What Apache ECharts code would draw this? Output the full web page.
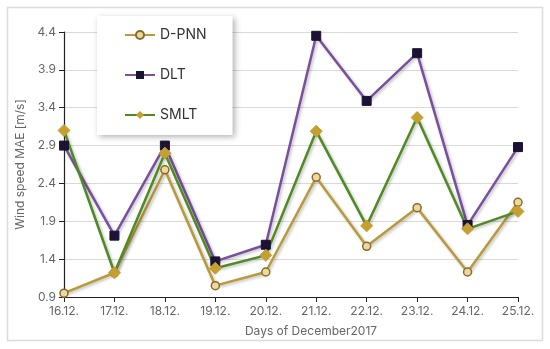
<!DOCTYPE html>
<html><head><meta charset="utf-8">
<script src="https://cdn.jsdelivr.net/npm/echarts@6/dist/echarts.min.js"></script>
<style>html,body{margin:0;padding:0;background:#fff}#c{width:550px;height:349px}</style>
</head><body><div id="c"></div>
<script>
const categories = ['16.12.','17.12.','18.12.','19.12.','20.12.','21.12.','22.12.','23.12.','24.12.','25.12.'];
const dpnn = [0.95, 1.22, 2.58, 1.05, 1.23, 2.48, 1.57, 2.08, 1.23, 2.15];
const dlt  = [2.90, 1.71, 2.90, 1.37, 1.59, 4.35, 3.49, 4.12, 1.85, 2.88];
const smlt = [3.10, 1.22, 2.80, 1.28, 1.45, 3.09, 1.84, 3.27, 1.80, 2.03];
const yTicks = [0.9, 1.4, 1.9, 2.4, 2.9, 3.4, 3.9, 4.4];

const chart = echarts.init(document.getElementById('c'));
const font = 'Inter, "Noto Sans", sans-serif';
const shadow = {shadowColor:'rgba(0,0,0,0.25)', shadowBlur:3, shadowOffsetX:1.5, shadowOffsetY:1.5};
chart.setOption({
  animation:false,
  graphic:[{type:'rect', shape:{x:7.5,y:7.5,width:535,height:333}, style:{fill:'none', stroke:'#dcdcdc', lineWidth:1.5}, z:-1}],
  grid:{left:64, right:32, top:32, bottom:52},
  legend:{
    orient:'vertical', left:97, top:16, padding:[12,26,13,27], itemGap:26,
    itemWidth:30, itemHeight:10,
    backgroundColor:'#fff', shadowColor:'rgba(0,0,0,0.3)', shadowBlur:6, shadowOffsetX:2, shadowOffsetY:2,
    textStyle:{fontFamily:font, fontSize:14, color:'#333'},
    data:['D-PNN','DLT','SMLT']
  },
  xAxis:{
    type:'category', data:categories, boundaryGap:false,
    name:'Days of December2017', nameLocation:'middle', nameGap:28,
    nameTextStyle:{fontFamily:font, fontSize:12, color:'#666', padding:[0,0,0,40]},
    axisLine:{lineStyle:{color:'#222', width:1.2}},
    axisTick:{show:true, alignWithLabel:true, length:5, lineStyle:{color:'#222'}},
    axisLabel:{fontFamily:font, fontSize:12, color:'#666', margin:8},
    splitLine:{show:false}
  },
  yAxis:{
    type:'value', min:0.9, max:4.4, interval:0.5,
    name:'Wind speed MAE [m/s]', nameLocation:'middle', nameGap:37,
    nameTextStyle:{fontFamily:font, fontSize:12, color:'#666'},
    axisLine:{show:true, lineStyle:{color:'#222', width:1.2}},
    axisTick:{show:true, length:5, lineStyle:{color:'#222'}},
    axisLabel:{fontFamily:font, fontSize:12, color:'#666', margin:8, formatter:v=>v.toFixed(1)},
    splitLine:{lineStyle:{color:'#d9d9d9', width:1}}
  },
  series:[
    {name:'D-PNN', type:'line', data:dpnn, symbol:'circle', symbolSize:8,
     lineStyle:Object.assign({color:'#b89a3a', width:2.5}, shadow),
     itemStyle:{color:'#ecd9a0', borderColor:'#8a6a2a', borderWidth:1.5}},
    {name:'DLT', type:'line', data:dlt, symbol:'rect', symbolSize:9,
     lineStyle:Object.assign({color:'#7a4f9e', width:2.5}, shadow),
     itemStyle:{color:'#1c1235', borderColor:'#1c1235'}},
    {name:'SMLT', type:'line', data:smlt, symbol:'diamond', symbolSize:12,
     lineStyle:Object.assign({color:'#4f8a22', width:2.5}, shadow),
     itemStyle:{color:'#c59f32', borderColor:'#c59f32'}}
  ]
});
</script></body></html>
